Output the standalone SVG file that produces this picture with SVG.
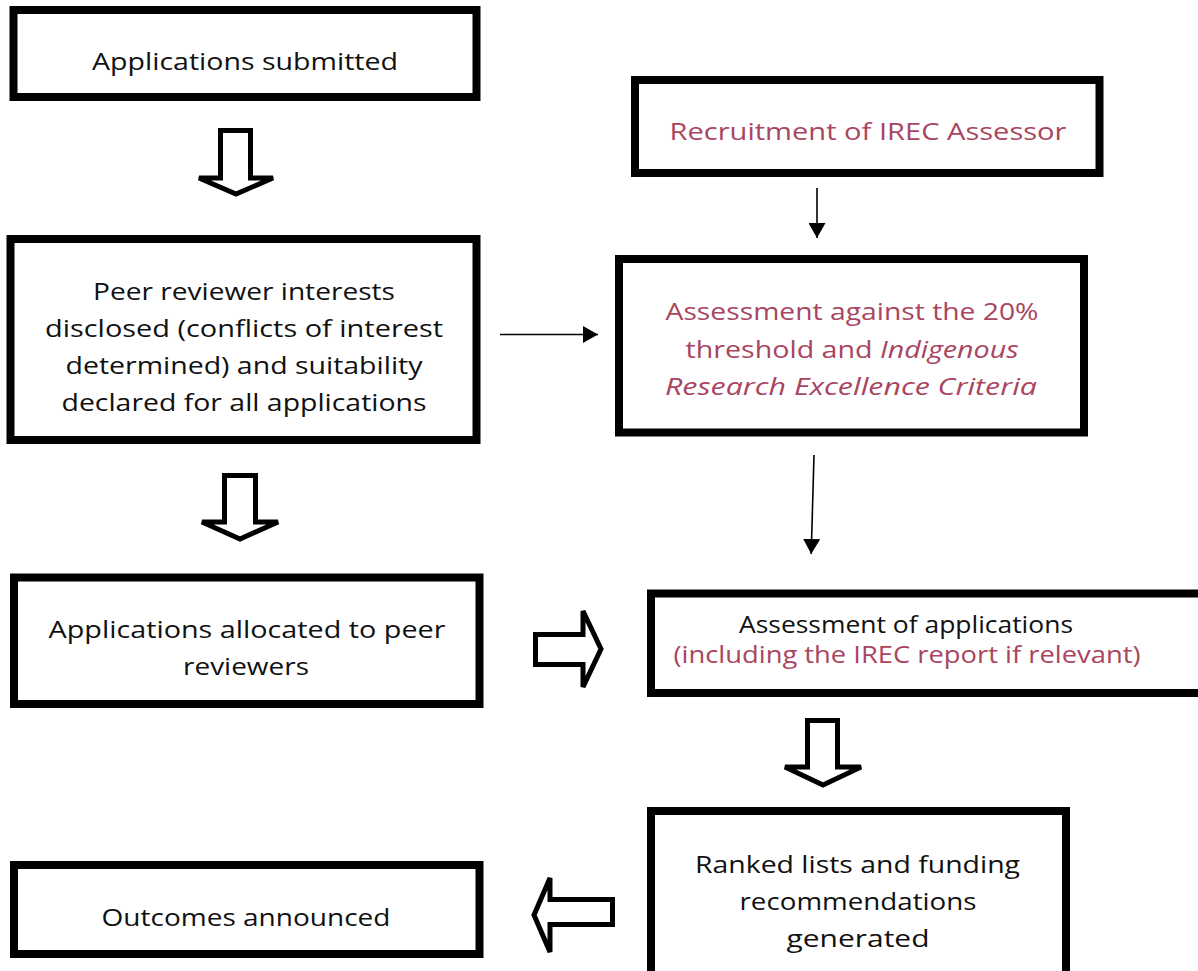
<svg xmlns="http://www.w3.org/2000/svg" width="1198" height="971" viewBox="0 0 1198 971">
<style>
.box{fill:#fff;stroke:#000;stroke-width:8}
.t{font-family:"Open Sans","Liberation Sans",sans-serif;font-size:24px;fill:#111;text-anchor:middle}
.r{fill:#a94560}
.it{font-style:italic}
.blk{fill:#fff;stroke:#000;stroke-width:5;stroke-linejoin:miter}
.ln{stroke:#000;stroke-width:1.6;fill:none}
</style>
<defs>
<marker id="ah" markerUnits="userSpaceOnUse" markerWidth="16" markerHeight="17" refX="15" refY="8.5" orient="auto">
<path d="M0,0 L15,8.5 L0,17 Z" fill="#000"/>
</marker>
</defs>
<rect width="1198" height="971" fill="#fff"/>

<g id="n1">
<rect class="box" x="13.5" y="10" width="463" height="87" stroke-width="7"/>
<text class="t" x="245" y="70" textLength="306" lengthAdjust="spacingAndGlyphs">Applications submitted</text>
</g>

<g id="n2">
<rect class="box" x="10.5" y="239" width="466" height="201" stroke-width="8.5"/>
<text class="t" x="244" y="300" textLength="302" lengthAdjust="spacingAndGlyphs">Peer reviewer interests</text>
<text class="t" x="244" y="337" textLength="398" lengthAdjust="spacingAndGlyphs">disclosed (conflicts of interest</text>
<text class="t" x="244" y="374" textLength="357" lengthAdjust="spacingAndGlyphs">determined) and suitability</text>
<text class="t" x="244" y="411" textLength="365" lengthAdjust="spacingAndGlyphs">declared for all applications</text>
</g>

<g id="n3">
<rect class="box" x="14" y="577.5" width="465.5" height="126.5"/>
<text class="t" x="247" y="638" textLength="397" lengthAdjust="spacingAndGlyphs">Applications allocated to peer</text>
<text class="t" x="246" y="675" textLength="126" lengthAdjust="spacingAndGlyphs">reviewers</text>
</g>

<g id="n4">
<rect class="box" x="14" y="865" width="465.5" height="89"/>
<text class="t" x="246" y="926" textLength="289" lengthAdjust="spacingAndGlyphs">Outcomes announced</text>
</g>

<g id="n5">
<rect class="box" x="635" y="80" width="464.5" height="93"/>
<text class="t r" x="868" y="140" textLength="397" lengthAdjust="spacingAndGlyphs">Recruitment of IREC Assessor</text>
</g>

<g id="n6">
<rect class="box" x="619" y="259" width="465" height="173.5"/>
<text class="t r" x="852" y="320" textLength="373" lengthAdjust="spacingAndGlyphs">Assessment against the 20%</text>
<text class="t r" x="852" y="358" textLength="333" lengthAdjust="spacingAndGlyphs">threshold and <tspan class="it">Indigenous</tspan></text>
<text class="t r it" x="851" y="395" textLength="372" lengthAdjust="spacingAndGlyphs">Research Excellence Criteria</text>
</g>

<g id="n7">
<rect class="box" x="651" y="593.5" width="570" height="99.5"/>
<text class="t" x="906" y="633" textLength="334" lengthAdjust="spacingAndGlyphs">Assessment of applications</text>
<text class="t r" x="907" y="663" textLength="467" lengthAdjust="spacingAndGlyphs">(including the IREC report if relevant)</text>
</g>

<g id="n8">
<rect class="box" x="651" y="811" width="415" height="200"/>
<text class="t" x="857.5" y="873" textLength="325" lengthAdjust="spacingAndGlyphs">Ranked lists and funding</text>
<text class="t" x="858" y="910" textLength="237" lengthAdjust="spacingAndGlyphs">recommendations</text>
<text class="t" x="858" y="947" textLength="143" lengthAdjust="spacingAndGlyphs">generated</text>
</g>

<g id="connectors">
<polygon class="blk" points="220.5,130.5 250.5,130.5 250.5,178 273,178 236,194 199,178 220.5,178"/>
<polygon class="blk" points="224.5,475.5 255.5,475.5 255.5,522 278,522 240,539 202,522 224.5,522"/>
<polygon class="blk" points="807.5,720.5 837.5,720.5 837.5,767 861,767 823,785 785,767 807.5,767"/>
<polygon class="blk" points="535.5,634.5 583,634.5 583,611 601,649 583,687 583,664.5 535.5,664.5"/>
<polygon class="blk" points="612.5,899.5 550,899.5 550,878 534,915 550,952 550,924.5 612.5,924.5"/>
<line class="ln" x1="817" y1="188" x2="817" y2="238" marker-end="url(#ah)"/>
<line class="ln" x1="500" y1="334.5" x2="598" y2="334.5" marker-end="url(#ah)"/>
<line class="ln" x1="814" y1="455" x2="811.2" y2="554" marker-end="url(#ah)"/>
</g>
</svg>
